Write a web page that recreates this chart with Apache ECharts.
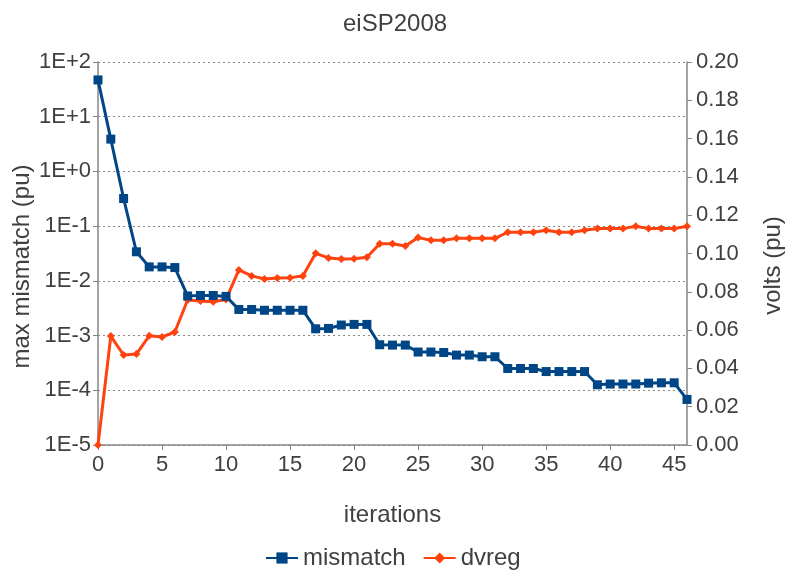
<!DOCTYPE html>
<html><head><meta charset="utf-8">
<script src="https://cdn.jsdelivr.net/npm/echarts@6/dist/echarts.min.js"></script>
<style>html,body{margin:0;padding:0;background:#fff}#c{width:792px;height:572px}</style>
</head><body><div id="c"></div>
<script>
const titleText = 'eiSP2008';
const iterations = [0,1,2,3,4,5,6,7,8,9,10,11,12,13,14,15,16,17,18,19,20,21,22,23,24,25,26,27,28,29,30,31,32,33,34,35,36,37,38,39,40,41,42,43,44,45,46];
const mismatch = [47,3.9,0.32,0.034,0.018,0.018,0.0175,0.0053,0.0054,0.0054,0.0052,0.0030,0.0030,0.0029,0.0029,0.0029,0.0029,0.00133,0.00135,0.00156,0.0016,0.0016,0.00068,0.00067,0.00067,0.0005,0.0005,0.00049,0.00044,0.00044,0.00041,0.00041,0.00025,0.00025,0.00025,0.00022,0.00022,0.00022,0.00022,0.000126,0.00013,0.00013,0.00013,0.000135,0.000137,0.000137,0.000068];
const dvreg = [0,0.0569,0.047,0.0475,0.057,0.0564,0.059,0.0757,0.0752,0.0748,0.076,0.0914,0.0883,0.0867,0.0872,0.0874,0.0883,0.1001,0.0977,0.0971,0.0973,0.098,0.1051,0.1051,0.1039,0.1083,0.1069,0.1069,0.1079,0.1079,0.1079,0.1079,0.1111,0.1111,0.1111,0.1121,0.1111,0.1111,0.1121,0.113,0.113,0.113,0.1142,0.113,0.113,0.113,0.1142];
const xTicks = [0,5,10,15,20,25,30,35,40,45];
const leftTicks = ['1E-5','1E-4','1E-3','1E-2','1E-1','1E+0','1E+1','1E+2'];
const rightTicks = ['0.00','0.02','0.04','0.06','0.08','0.10','0.12','0.14','0.16','0.18','0.20'];

const FONT = 'Liberation Sans, Arial, sans-serif';
const TXT = '#404040';
const AX = '#868686';
const chart = echarts.init(document.getElementById('c'), null, {renderer:'canvas'});
chart.setOption({
  animation:false,
  textStyle:{fontFamily:FONT},
  title:{text:titleText,left:338,top:7,textStyle:{fontSize:24,fontWeight:'normal',color:TXT,fontFamily:FONT}},
  legend:{top:541,left:260,itemWidth:32,itemHeight:14,itemGap:17,
    textStyle:{fontSize:24,color:TXT,fontFamily:FONT},
    data:['mismatch','dvreg']},
  grid:{left:98,right:105,top:62,bottom:127,containLabel:false,outerBoundsMode:'none'},
  xAxis:{type:'value',min:0,max:46,interval:5,
    name:'iterations',nameLocation:'middle',nameGap:58,nameMoveOverlap:false,
    nameTextStyle:{fontSize:24,color:TXT,fontFamily:FONT},
    axisLine:{lineStyle:{color:AX,width:1.5}},
    axisTick:{show:true,length:5,lineStyle:{color:AX}},
    axisLabel:{fontSize:22,color:TXT,margin:9,showMaxLabel:false,fontFamily:FONT,
      formatter:v=> xTicks.indexOf(v)>=0 ? String(v) : ''},
    splitLine:{show:false}},
  yAxis:[{type:'log',logBase:10,min:1e-5,max:100,splitNumber:7,
    name:'max mismatch (pu)',nameLocation:'middle',nameGap:64,nameRotate:90,nameMoveOverlap:false,
    nameTextStyle:{fontSize:24,color:TXT,fontFamily:FONT,padding:[0,26,0,0]},
    axisLine:{show:true,lineStyle:{color:AX,width:1.5}},
    axisTick:{show:true,length:5,lineStyle:{color:AX}},
    axisLabel:{fontSize:22,color:TXT,margin:7,fontFamily:FONT,
      formatter:v=>{const e=Math.round(Math.log10(v)); const lbl='1E'+(e>=0?'+':'-')+Math.abs(e); return leftTicks.indexOf(lbl)>=0?lbl:'';}},
    splitLine:{show:true,lineStyle:{color:'#888',type:[2,3],width:1.2}}},
   {type:'value',min:0,max:0.2,interval:0.02,position:'right',
    name:'volts (pu)',nameLocation:'middle',nameGap:74,nameRotate:90,
    nameTextStyle:{fontSize:24,color:TXT,fontFamily:FONT,padding:[0,24,0,0]},
    axisLine:{show:true,lineStyle:{color:AX,width:1.5}},
    axisTick:{show:true,length:5,lineStyle:{color:AX}},
    axisLabel:{fontSize:22,color:TXT,margin:9,fontFamily:FONT,
      formatter:v=>{const s=v.toFixed(2); return rightTicks.indexOf(s)>=0?s:'';}},
    splitLine:{show:false}}],
  series:[
    {name:'mismatch',type:'line',yAxisIndex:0,data:iterations.map((x,i)=>[x,mismatch[i]]),
     symbol:'rect',symbolSize:9,lineStyle:{color:'#004586',width:3},itemStyle:{color:'#004586'},z:3},
    {name:'dvreg',type:'line',yAxisIndex:1,data:iterations.map((x,i)=>[x,dvreg[i]]),
     symbol:'diamond',symbolSize:8,lineStyle:{color:'#ff420e',width:3},itemStyle:{color:'#ff420e'},z:2}
  ]
});
</script></body></html>
